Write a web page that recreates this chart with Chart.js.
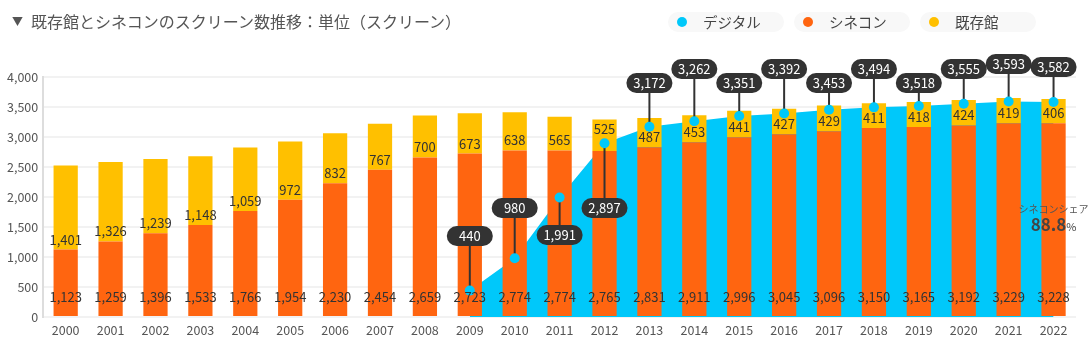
<!DOCTYPE html>
<html>
<head>
<meta charset="utf-8">
<script src="https://cdn.jsdelivr.net/npm/chart.js@4"></script>
<style>
  body { margin: 0; background: #fff; font-family: "Noto Sans CJK JP", sans-serif; }
  #wrap { position: relative; width: 1089px; height: 350px; }
  #title { position: absolute; left: 12px; top: 9px; font-size: 16px; color: #555; white-space: nowrap; }
  #title .tri { font-size: 11px; position: relative; top: -2px; margin-right: 8px; }
  #legend { position: absolute; left: 668px; top: 12px; display: flex; gap: 10px; }
  .pill { width: 116px; height: 20px; border-radius: 10px; background: #f8f8f8; position: relative; font-size: 14.5px; color: #444; }
  .pill i { position: absolute; left: 9px; top: 5px; width: 10px; height: 10px; border-radius: 50%; }
  .pill span { position: absolute; left: 35px; top: -1px; line-height: 22px; }
  canvas { position: absolute; left: 0; top: 0; }
</style>
</head>
<body>
<div id="wrap">
  <canvas id="myChart" width="1089" height="350"></canvas>
  <div id="title"><span class="tri">▼</span>既存館とシネコンのスクリーン数推移：単位（スクリーン）</div>
  <div id="legend"></div>
</div>
<script>
const years = ['2000','2001','2002','2003','2004','2005','2006','2007','2008','2009','2010','2011',
  '2012','2013','2014','2015','2016','2017','2018','2019','2020','2021','2022'];
const cinecon = [1123,1259,1396,1533,1766,1954,2230,2454,2659,2723,2774,2774,2765,2831,2911,2996,3045,3096,3150,3165,3192,3229,3228];
const existing = [1401,1326,1239,1148,1059,972,832,767,700,673,638,565,525,487,453,441,427,429,411,418,424,419,406];
const digital = [null,null,null,null,null,null,null,null,null,440,980,1991,2897,3172,3262,3351,3392,3453,3494,3518,3555,3593,3582];
const yTicks = [0,500,1000,1500,2000,2500,3000,3500,4000];

const CYAN = '#00c8fa', ORANGE = '#ff6510', YELLOW = '#ffc000';

// label pill heights (px) for the digital values, 2009 onwards
const pillY = [236,208,235,208,83,69,83,69,83,69,83,69,64,67];

const legendItems = [['デジタル', CYAN], ['シネコン', ORANGE], ['既存館', YELLOW]];
document.getElementById('legend').innerHTML = legendItems
  .map(([t, c]) => `<div class="pill"><i style="background:${c}"></i><span>${t}</span></div>`).join('');

const fmt = v => v.toLocaleString('en-US');
const FONT = '"Noto Sans CJK JP", sans-serif';

function roundRect(ctx, x, y, w, h, r) {
  ctx.beginPath();
  ctx.moveTo(x + r, y);
  ctx.arcTo(x + w, y, x + w, y + h, r);
  ctx.arcTo(x + w, y + h, x, y + h, r);
  ctx.arcTo(x, y + h, x, y, r);
  ctx.arcTo(x, y, x + w, y, r);
  ctx.closePath();
}

// pixel y of the pill for year index i (or null)
function pillFor(i) {
  if (digital[i] == null) return null;
  return pillY[i - digital.findIndex(v => v != null)];
}

const labelPlugin = {
  id: 'labels',
  beforeDatasetDraw(chart, args) {
    if (args.index !== 0) return;
    // leader lines under the dots
    const ctx = chart.ctx;
    const pts = chart.getDatasetMeta(0).data;
    ctx.save();
    ctx.strokeStyle = '#333';
    ctx.lineWidth = 2;
    digital.forEach((v, i) => {
      if (v == null) return;
      const p = pts[i];
      ctx.beginPath();
      ctx.moveTo(p.x, p.y);
      ctx.lineTo(p.x, pillFor(i));
      ctx.stroke();
    });
    ctx.restore();
  },
  afterDatasetsDraw(chart) {
    const ctx = chart.ctx;
    const pts = chart.getDatasetMeta(0).data;
    ctx.save();
    ctx.textAlign = 'center';
    ctx.textBaseline = 'middle';
    ctx.font = '13px ' + FONT;
    ctx.fillStyle = '#333';
    chart.getDatasetMeta(1).data.forEach((b, i) => ctx.fillText(fmt(cinecon[i]), b.x, b.base - 19));
    chart.getDatasetMeta(2).data.forEach((b, i) => {
      let y = b.base - 10;
      const py = pillFor(i);
      // move the label up when a leader line runs down through it
      if (py != null && pts[i].y - 8 < y && py > y) y = b.y + 9;
      ctx.fillText(fmt(existing[i]), b.x, y);
    });

    digital.forEach((v, i) => {
      if (v == null) return;
      const p = pts[i], y = pillFor(i);
      ctx.fillStyle = '#333';
      roundRect(ctx, p.x - 23, y - 10, 46, 20, 10);
      ctx.fill();
      ctx.fillStyle = '#fff';
      ctx.fillText(fmt(v), p.x, y + 0.5);
    });

    // share of cinecon in the last year
    const last = years.length - 1;
    const share = (cinecon[last] / (cinecon[last] + existing[last]) * 100).toFixed(1);
    const bx = chart.getDatasetMeta(1).data[last].x;
    ctx.fillStyle = '#555';
    ctx.font = '10px ' + FONT;
    ctx.fillText('シネコンシェア', bx, 209);
    ctx.font = 'bold 17px ' + FONT;
    const w1 = ctx.measureText(share).width;
    ctx.font = '11px ' + FONT;
    const w2 = ctx.measureText('%').width;
    ctx.textAlign = 'left';
    ctx.fillStyle = '#444';
    ctx.font = 'bold 17px ' + FONT;
    ctx.fillText(share, bx - (w1 + w2) / 2, 225);
    ctx.font = '11px ' + FONT;
    ctx.fillText('%', bx - (w1 + w2) / 2 + w1, 227);
    ctx.restore();
  }
};

new Chart(document.getElementById('myChart'), {
  data: {
    labels: years,
    datasets: [
      { type: 'line', label: 'デジタル点', data: digital, showLine: false, stack: 'p',
        pointRadius: 5, pointHoverRadius: 5, pointBackgroundColor: CYAN, pointBorderWidth: 0, order: 0 },
      { type: 'bar', label: 'シネコン', data: cinecon, backgroundColor: ORANGE, stack: 's', order: 1,
        barPercentage: 0.54, categoryPercentage: 1 },
      { type: 'bar', label: '既存館', data: existing, backgroundColor: YELLOW, stack: 's', order: 1,
        barPercentage: 0.54, categoryPercentage: 1 },
      { type: 'line', label: 'デジタル', data: digital, fill: 'origin', backgroundColor: CYAN,
        borderWidth: 0, borderColor: CYAN, pointRadius: 0, tension: 0, stack: 'a', order: 2 }
    ]
  },
  options: {
    responsive: false,
    animation: false,
    events: [],
    layout: { padding: { top: 77, left: 2, right: 13, bottom: 6 } },
    plugins: { legend: { display: false }, tooltip: { enabled: false } },
    scales: {
      x: {
        stacked: true,
        grid: { display: false, drawTicks: false },
        border: { display: false },
        ticks: { color: '#555', font: { family: FONT, size: 12.5 }, padding: 6 }
      },
      y: {
        stacked: true,
        min: 0, max: 4000,
        afterBuildTicks: s => { s.ticks = yTicks.map(v => ({ value: v })); },
        grid: { color: '#f2f2f2', lineWidth: 2, drawTicks: false },
        border: { color: '#dddddd', width: 2 },
        ticks: { color: '#555', font: { family: FONT, size: 12.5 }, padding: 5, callback: v => fmt(v) }
      }
    }
  },
  plugins: [labelPlugin]
});
</script>
</body>
</html>
